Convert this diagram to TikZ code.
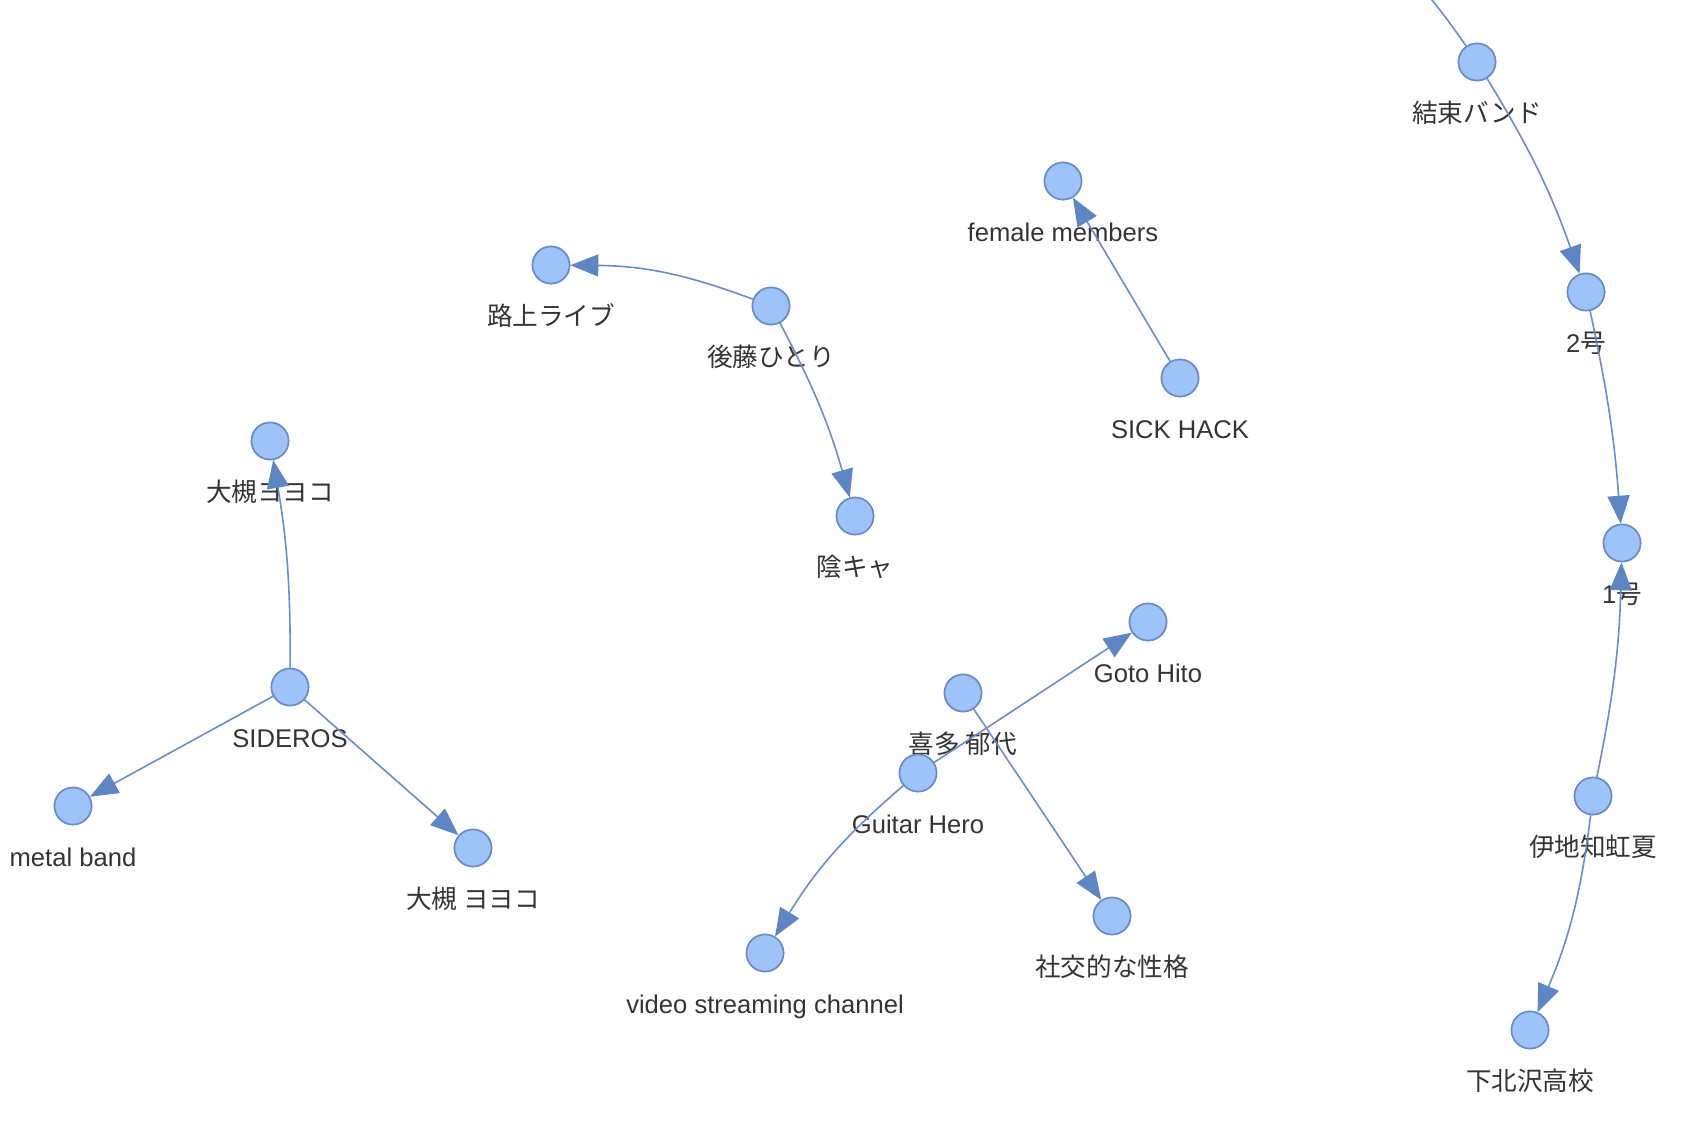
\documentclass[tikz,border=0pt]{standalone}
\usepackage{fontspec}
\setmainfont{Liberation Sans}
\newfontfamily\jp{Noto Sans CJK JP}
\usetikzlibrary{arrows.meta,calc}
\definecolor{nodefill}{HTML}{9EC3F8}
\definecolor{nodeedge}{HTML}{6A8CC8}
\definecolor{linkcol}{HTML}{6B8DC9}
\definecolor{tipcol}{HTML}{5F86C4}
\definecolor{txtcol}{HTML}{343434}
\tikzset{
  vnode/.style={circle,draw=nodeedge,fill=nodefill,line width=1.6pt,minimum size=37pt,inner sep=0pt},
  vlabel/.style={anchor=base,text=txtcol,font=\fontsize{25.6}{28}\selectfont,inner sep=0pt},
  link/.style={draw=linkcol,line width=1.6pt,-{Triangle[length=28pt,width=22pt,color=tipcol]}},
  plainlink/.style={draw=linkcol,line width=1.6pt},
}
\newcommand{\vn}[3]{\node[vnode] (#1) at (#2) {};
  \node[vlabel] (#1-l) at ($(#1)+(0,60)$) {#3};}
\begin{document}
\begin{tikzpicture}[x=1pt,y=-1pt]
\useasboundingbox (0,0) rectangle (1691,1124);
\clip (0,0) rectangle (1691,1124);
\fill[white] (0,0) rectangle (1691,1124);
\coordinate (offtop) at (1395,-42);
\vn{kessoku}{1477,62}{{\jp 結束バンド}}
\vn{ni}{1586,292}{2{\jp 号}}
\vn{ichi}{1622,543}{1{\jp 号}}
\vn{ijichi}{1593,796}{{\jp 伊地知虹夏}}
\vn{shimo}{1530,1030}{{\jp 下北沢高校}}
\vn{female}{1063,181}{female members}
\vn{sick}{1180,378}{SICK HACK}
\vn{rojo}{551,265}{{\jp 路上ライブ}}
\vn{goto}{771,306}{{\jp 後藤ひとり}}
\vn{inkya}{855,516}{{\jp 陰キャ}}
\vn{ootop}{270,441}{{\jp 大槻ヨヨコ}}
\vn{sideros}{290,687}{SIDEROS}
\vn{metal}{73,806}{metal band}
\vn{oobot}{473,848}{{\jp 大槻 ヨヨコ}}
\vn{hito}{1148,622}{Goto Hito}
\vn{kita}{963,693}{{\jp 喜多 郁代}}
\vn{guitar}{918,773}{Guitar Hero}
\vn{video}{765,953}{video streaming channel}
\vn{shako}{1112,916}{{\jp 社交的な性格}}
\draw[plainlink] (kessoku) to[bend right=4] (offtop);
\draw[link] (kessoku) to[bend left=6] (ni);
\draw[link] (ni) to[bend left=4] (ichi);
\draw[link] (ijichi) to[bend right=5] (ichi);
\draw[link] (ijichi) to[bend left=8] (shimo);
\draw[link] (sick) -- (female);
\draw[link] (goto) to[bend right=10] (rojo);
\draw[link] (goto) to[bend left=6] (inkya);
\draw[link] (sideros) to[bend right=5] (ootop);
\draw[link] (sideros) -- (metal);
\draw[link] (sideros) -- (oobot);
\draw[link] (guitar) -- (hito);
\draw[link] (guitar) to[bend right=9] (video);
\draw[link] (kita) -- (shako);
\foreach \n in {kessoku,ni,ichi,ijichi,shimo,female,sick,rojo,goto,inkya,ootop,sideros,metal,oobot,hito,kita,guitar,video,shako}{
  \node[vnode] at (\n) {};
}
\end{tikzpicture}
\end{document}
